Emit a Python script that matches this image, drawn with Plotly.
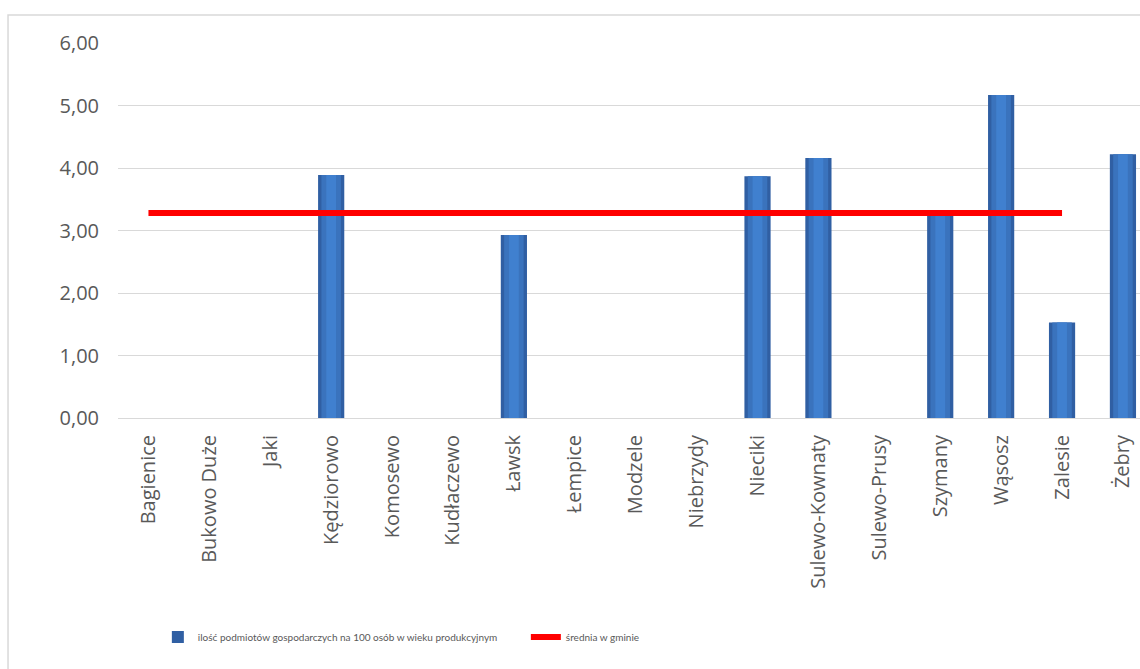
import plotly.graph_objects as go

categories = ["Bagienice", "Bukowo Duże", "Jaki", "Kędziorowo", "Komosewo", "Kudłaczewo",
              "Ławsk", "Łempice", "Modzele", "Niebrzydy", "Nieciki", "Sulewo-Kownaty",
              "Sulewo-Prusy", "Szymany", "Wąsosz", "Zalesie", "Żebry"]
values = [0, 0, 0, 3.89, 0, 0, 2.93, 0, 0, 0, 3.87, 4.16, 0, 3.25, 5.17, 1.53, 4.22]
average_categories = categories[:16]
average_values = [3.28] * 16
y_ticks = [0, 1, 2, 3, 4, 5, 6]

bar_name = "ilość podmiotów gospodarczych na 100 osób w wieku produkcyjnym"
line_name = "średnia w gminie"

fig = go.Figure()
fig.add_trace(go.Bar(
    x=categories, y=values, name=bar_name, width=0.43,
    marker=dict(color="#305fa3", line=dict(width=0)),
))
fig.add_trace(go.Bar(
    x=categories, y=values, name=bar_name, width=0.32, showlegend=False,
    marker=dict(color="#3a73bd", line=dict(width=0)), hoverinfo="skip",
))
fig.add_trace(go.Bar(
    x=categories, y=values, name=bar_name, width=0.16, showlegend=False,
    marker=dict(color="#4080cf", line=dict(width=0)), hoverinfo="skip",
))
fig.add_trace(go.Scatter(
    x=average_categories, y=average_values, name=line_name, mode="lines",
    line=dict(color="#ff0000", width=6),
))

fig.update_layout(
    width=1140, height=669,
    margin=dict(l=118, r=0, t=43, b=251),
    paper_bgcolor="white", plot_bgcolor="white",
    barmode="overlay",
    separators=", ",
    font=dict(family="Open Sans", color="#595959"),
    showlegend=True,
    legend=dict(orientation="h", x=0.039, y=-0.584, xanchor="left", yanchor="middle",
                font=dict(family="Lato", size=10, color="#595959"),
                entrywidth=323, traceorder="normal"),
    xaxis=dict(range=[-0.5, 16.28], tickangle=-90, tickfont=dict(size=20, color="#595959"),
               showgrid=False, showline=False, ticks="", ticklabelstandoff=12),
    yaxis=dict(range=[0, 6], tickvals=y_ticks, tickformat=".2f",
               tickfont=dict(size=20, color="#595959"),
               showgrid=True, gridcolor="#d9d9d9", gridwidth=1,
               zeroline=True, zerolinecolor="#d9d9d9", zerolinewidth=1,
               showline=False, ticks="", ticklabelstandoff=18),
    shapes=[dict(type="rect", xref="paper", yref="paper", x0=-0.1076, x1=1.05, y0=-0.7, y1=1.0747,
                 line=dict(color="#d9d9d9", width=1.5), fillcolor="rgba(0,0,0,0)", layer="below")],
)

fig.write_html("out.html", config={"displayModeBar": False},
               post_script="document.body.style.margin='0';document.body.style.overflow='hidden';")
